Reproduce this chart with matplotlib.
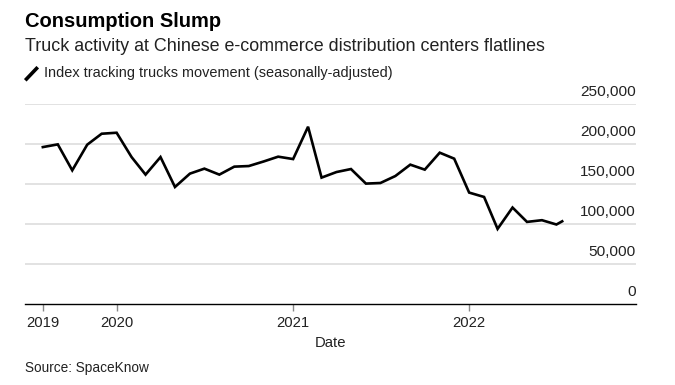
import matplotlib
matplotlib.use("Agg")
import matplotlib.pyplot as plt
import matplotlib.transforms as mtransforms
from matplotlib.lines import Line2D
import pandas as pd

plt.rcParams['font.family'] = ['Liberation Sans', 'DejaVu Sans']

dates = list(pd.date_range("2019-08-01", "2022-07-01", freq="MS")) + [pd.Timestamp("2022-07-13")]
values = [196000, 199400, 166900, 199000, 212750, 214000, 183500, 161500, 183500, 146000,
          162750, 169000, 161500, 171500, 172250, 178000, 184000, 181000, 221500, 157750,
          164750, 168500, 150250, 151000, 159750, 174000, 167750, 189000, 181500, 139000,
          133500, 93500, 120250, 102250, 104400, 99000, 103000]
y_ticks = [0, 50000, 100000, 150000, 200000, 250000]
x_tick_dates = [pd.Timestamp("2019-08-01"), pd.Timestamp("2020-01-01"),
                pd.Timestamp("2021-01-01"), pd.Timestamp("2022-01-01")]
x_tick_labels = ["2019", "2020", "2021", "2022"]

W, H = 675, 385
fig = plt.figure(figsize=(W / 100, H / 100), dpi=100)
ax = fig.add_axes([25 / W, 1 - 303.5 / H, 610.5 / W, (303.5 - 104) / H])

ax.plot(dates, values, color="black", lw=1.9, solid_joinstyle="miter", zorder=3)

ax.set_ylim(0, 250000)
ax.set_xlim(pd.Timestamp("2019-06-25"), pd.Timestamp("2022-12-12"))

for v in y_ticks[1:]:
    ax.axhline(v, color="#e2e2e2", lw=1.4, zorder=1)
ax.set_yticks([])

trans = mtransforms.blended_transform_factory(ax.transAxes, ax.transData)
off = mtransforms.offset_copy(trans, fig=fig, x=0, y=5, units="dots")
for v in y_ticks:
    ax.text(1.0, v, f"{v:,}", transform=off, ha="right", va="bottom",
            fontsize=11.1, color="#222222")

for s in ["top", "right", "left"]:
    ax.spines[s].set_visible(False)
ax.spines["bottom"].set_color("black")
ax.spines["bottom"].set_linewidth(1.0)

ax.set_xticks(x_tick_dates)
ax.set_xticklabels(x_tick_labels)
ax.tick_params(axis="x", length=5, width=1, color="#888888", pad=4,
               labelsize=10.7, labelcolor="#222222")
ax.set_xlabel("Date", fontsize=10.7, color="#222222", labelpad=4)

fig.text(25 / W, 1 - 12 / H, "Consumption Slump", fontsize=14.5, fontweight="bold",
         ha="left", va="top", color="black")
fig.text(25 / W, 1 - 38 / H, "Truck activity at Chinese e-commerce distribution centers flatlines",
         fontsize=12.9, ha="left", va="top", color="#222222")
fig.add_artist(Line2D([26.5 / W, 36.5 / W], [1 - 79 / H, 1 - 68.5 / H], color="black",
                      lw=2.6, transform=fig.transFigure))
fig.text(44 / W, 1 - 66 / H, "Index tracking trucks movement (seasonally-adjusted)",
         fontsize=10.45, ha="left", va="top", color="#222222")
fig.text(25 / W, 1 - 361 / H, "Source: SpaceKnow", fontsize=9.8, ha="left", va="top",
         color="#222222")

fig.savefig("out.png", dpi=100)
